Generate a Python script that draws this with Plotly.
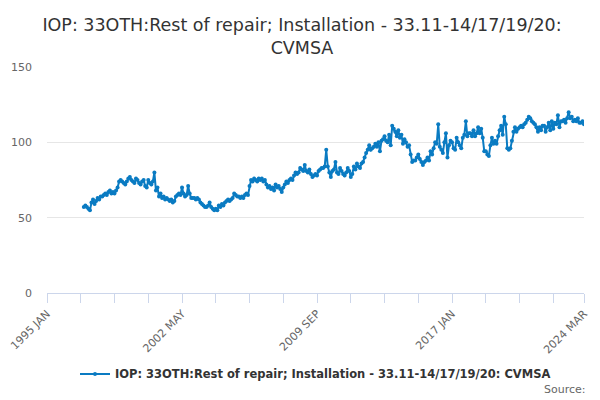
import plotly.graph_objects as go

# monthly axis categories, 1995 JAN .. 2024 MAR
month_names = ["JAN", "FEB", "MAR", "APR", "MAY", "JUN", "JUL", "AUG", "SEP", "OCT", "NOV", "DEC"]
months = [f"{y} {m}" for y in range(1995, 2025) for m in month_names][:351]

# series starts 1997 JAN
v1997 = [57, 58, 57, 56, 55, 60, 62, 59, 61, 63, 62, 64]
v1998 = [64, 65, 66, 65, 67, 68, 66, 67, 66, 68, 70, 74]
v1999 = [75, 74, 73, 72, 74, 76, 77, 75, 74, 73, 76, 75]
v2000 = [73, 72, 74, 75, 71, 70, 75, 73, 72, 74, 80, 68]
v2001 = [70, 64, 66, 63, 64, 62, 63, 62, 61, 62, 60, 61]
v2002 = [64, 65, 66, 65, 70, 66, 64, 65, 71, 66, 63, 63]
v2003 = [63, 62, 63, 62, 60, 59, 58, 57, 57, 58, 60, 57]
v2004 = [56, 55, 56, 55, 58, 57, 59, 58, 60, 61, 62, 61]
v2005 = [62, 63, 66, 65, 64, 64, 63, 64, 63, 65, 66, 65]
v2006 = [71, 75, 74, 76, 75, 74, 76, 75, 76, 74, 75, 72]
v2007 = [70, 71, 69, 70, 68, 72, 70, 71, 69, 67, 70, 72]
v2008 = [74, 73, 75, 76, 75, 78, 80, 79, 80, 83, 82, 81]
v2009 = [85, 81, 80, 82, 79, 77, 78, 79, 78, 81, 82, 83]
v2010 = [83, 84, 95, 84, 80, 77, 81, 82, 87, 80, 79, 83]
v2011 = [81, 79, 78, 80, 83, 81, 77, 79, 84, 82, 86, 84]
v2012 = [83, 86, 87, 90, 93, 95, 98, 95, 96, 97, 99, 97]
v2013 = [100, 94, 101, 102, 104, 101, 100, 105, 98, 111, 109, 107]
v2014 = [104, 108, 103, 105, 99, 102, 100, 97, 98, 92, 87, 88]
v2015 = [88, 90, 92, 89, 87, 85, 87, 88, 90, 88, 94, 92]
v2016 = [96, 100, 99, 112, 97, 95, 93, 100, 106, 90, 98, 101]
v2017 = [100, 96, 95, 103, 100, 98, 96, 103, 105, 114, 104, 106]
v2018 = [106, 104, 108, 104, 106, 110, 106, 109, 103, 94, 94, 92]
v2019 = [91, 98, 103, 99, 101, 99, 104, 108, 111, 105, 117, 112]
v2020 = [96, 95, 96, 101, 107, 110, 107, 109, 110, 111, 110, 112]
v2021 = [113, 115, 117, 116, 114, 113, 112, 110, 107, 110, 108, 111]
v2022 = [111, 107, 110, 113, 108, 114, 109, 113, 112, 118, 110, 114]
v2023 = [114, 115, 113, 116, 120, 116, 117, 114, 115, 114, 116, 113]
v2024 = [113, 114, 112]

values = (v1997 + v1998 + v1999 + v2000 + v2001 + v2002 + v2003 + v2004 + v2005
          + v2006 + v2007 + v2008 + v2009 + v2010 + v2011 + v2012 + v2013 + v2014
          + v2015 + v2016 + v2017 + v2018 + v2019 + v2020 + v2021 + v2022 + v2023 + v2024)
data_months = months[24:24 + len(values)]

series_name = "IOP: 33OTH:Rest of repair; Installation - 33.11-14/17/19/20: CVMSA"
tick_pos = [months[i] for i in list(range(0, 331, 22)) + [350]]
tick_txt = [m if months.index(m) in (0, 88, 176, 264, 350) else "" for m in tick_pos]

fig = go.Figure()
fig.add_trace(go.Scatter(x=data_months, y=values, mode="lines+markers", name=series_name,
                         line=dict(color="#0a7bc2", width=2),
                         marker=dict(color="#0a7bc2", size=4)))

# page body has an 8px margin, so the figure is offset by 8px
fig.update_layout(
    width=592, height=392,
    paper_bgcolor="white", plot_bgcolor="white",
    font=dict(family="DejaVu Sans", color="#333333"),
    margin=dict(l=39, r=16, t=59, b=107, autoexpand=False),
    title=dict(text="IOP: 33OTH:Rest of repair; Installation - 33.11-14/17/19/20:<br>CVMSA",
               x=294 / 592, xanchor="center", xref="container", yref="container",
               y=1 - 23 / 392, yanchor="middle",
               font=dict(size=17.5, color="#333333")),
    showlegend=True,
    legend=dict(orientation="h", x=0.5, xanchor="center", y=-0.358, yanchor="middle",
                font=dict(size=11.5, color="#333333", weight="bold")),
    xaxis=dict(type="category", categoryorder="array", categoryarray=months,
               range=[0, 350], tickmode="array", tickvals=tick_pos, ticktext=tick_txt,
               tickangle=-45, tickfont=dict(size=11, color="#666666"),
               ticks="outside", ticklen=9, tickcolor="#ccd6eb", automargin=False,
               showline=True, linecolor="#ccd6eb", showgrid=False, zeroline=False),
    yaxis=dict(range=[0, 150], tickvals=[0, 50, 100, 150], automargin=False,
               tickfont=dict(size=11, color="#666666"), ticklabelstandoff=14,
               showgrid=True, gridcolor="#e6e6e6", zeroline=False, showline=False),
)
fig.add_annotation(text="Source:", xref="paper", yref="paper", x=1.0074, y=-0.429,
                   xanchor="right", yanchor="middle", showarrow=False,
                   font=dict(size=11, color="#666666"))

fig.write_html("out.html")
